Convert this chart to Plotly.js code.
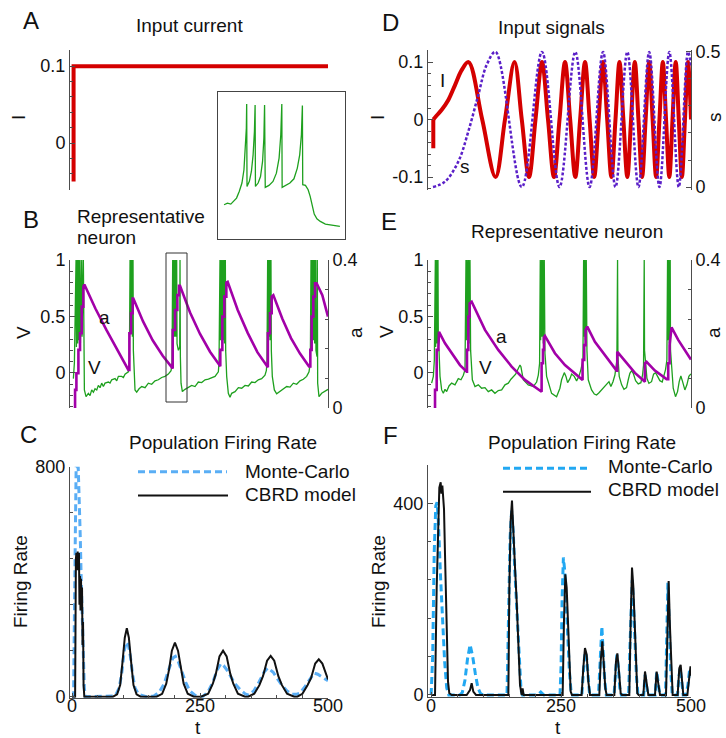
<!DOCTYPE html>
<html><head><meta charset="utf-8">
<script src="https://cdn.plot.ly/plotly-3.0.1.min.js"></script>
<style>html,body{margin:0;padding:0;background:#fff}#plot{width:726px;height:738px}</style>
</head><body><div id="plot"></div>
<script>
// ---------------- DATA ----------------
// Panel A: constant input current
const aCurrent = [[3,-0.05],[3,0.1],[500,0.1]];
// Inset: zoomed voltage trace (t, V)
const insetV = [[185.46,0.050],[186.55,0.065],[187.64,0.056],[188.74,0.086],[189.50,0.110],[190.37,0.170],[191.25,0.245],[191.90,0.364],[192.34,0.528],[192.67,0.737],[192.78,0.955],[192.89,0.215],[193.65,0.260],[194.31,0.349],[194.86,0.498],[195.29,0.707],[195.51,0.946],[195.62,0.215],[196.49,0.245],[197.26,0.304],[197.92,0.439],[198.35,0.648],[198.57,0.946],[198.79,0.206],[199.99,0.224],[201.30,0.260],[202.40,0.334],[203.27,0.469],[203.82,0.678],[204.15,0.955],[204.26,0.206],[205.46,0.224],[206.77,0.245],[208.08,0.283],[209.17,0.379],[209.94,0.498],[210.49,0.678],[210.81,0.940],[210.92,0.230],[211.80,0.224],[212.67,0.185],[213.33,0.125],[213.98,0.035],[214.64,-0.033],[215.51,-0.075],[216.61,-0.099],[218.25,-0.123],[219.89,-0.129],[221.53,-0.135],[222.95,-0.144]];
// Panel B: representative neuron, V and a
const bV = [[2.6,-0.05],[4.6,0.09],[7.8,1],[8.5,0.23],[10.4,1],[11.1,0.26],[13.0,1],[13.7,0.29],[15.6,1],[16.3,0.26],[18.9,1],[19.5,0.32],[22.1,1],[22.8,0.20],[24.1,-0.15],[27.3,-0.21],[31.9,-0.18],[35.2,-0.20],[38.4,-0.15],[41.7,-0.17],[44.9,-0.14],[48.2,-0.15],[51.4,-0.11],[54.7,-0.13],[57.9,-0.09],[61.2,-0.12],[64.4,-0.09],[71.0,-0.08],[74.2,-0.09],[77.5,-0.06],[84.0,-0.05],[87.3,-0.07],[90.5,-0.03],[97.0,-0.03],[100.3,-0.04],[103.5,-0.01],[110.0,0.01],
[112.0,0.09],[113.3,1],[113.9,0.35],[115.2,1],[115.9,0.35],[117.2,1],[117.8,0.32],[119.1,1],[119.8,0.20],[121.1,-0.03],[123.0,-0.15],[126.3,-0.17],[130.9,-0.14],[136.1,-0.12],[142.6,-0.13],[149.1,-0.09],[155.6,-0.10],[162.1,-0.07],[168.6,-0.06],[175.1,-0.04],[181.6,-0.03],[188.1,-0.01],[193.4,0.02],
[195.3,0.09],[196.6,1],[197.3,0.29],[199.2,1],[199.9,0.32],[201.8,1],[202.5,0.32],[204.4,1],[205.1,0.26],[207.7,0.20],[210.3,0.23],[210.9,1],[211.6,0.145],[212.9,-0.09],[215.5,-0.165],[220.7,-0.145],[227.2,-0.13],[233.7,-0.11],[240.2,-0.12],[246.7,-0.08],[253.2,-0.085],[259.8,-0.06],[266.3,-0.055],[272.8,-0.04],[279.3,-0.03],[285.8,0.01],
[287.1,0.09],[289.0,1],[289.7,0.29],[291.6,1],[292.3,0.32],[294.3,1],[294.9,0.29],[296.9,1],[297.5,0.26],[299.5,1],[300.1,0.20],[302.1,-0.03],[305.3,-0.18],[308.6,-0.215],[311.8,-0.18],[318.4,-0.165],[324.9,-0.13],[331.4,-0.135],[337.9,-0.11],[344.4,-0.115],[350.9,-0.08],[357.4,-0.085],[363.9,-0.06],[370.4,-0.05],[376.9,-0.02],[379.5,0.02],
[380.8,0.09],[382.1,1],[382.8,0.29],[384.1,1],[384.7,0.32],[386.0,1],[386.7,0.29],[388.6,1],[389.3,0.20],[391.2,-0.03],[395.2,-0.15],[399.7,-0.185],[406.3,-0.165],[412.8,-0.145],[419.3,-0.12],[425.8,-0.125],[432.3,-0.09],[438.8,-0.10],[445.3,-0.07],[451.8,-0.056],[458.3,-0.03],[462.9,0.01],
[465.5,0.09],[466.8,1],[467.4,0.29],[468.7,1],[469.4,0.29],[471.3,1],[472.0,0.29],[473.3,1],[473.9,0.26],[475.9,1],[476.5,0.20],[478.5,0.145],[479.1,1],[479.8,-0.09],[482.4,-0.21],[487.6,-0.18],[494.1,-0.165],[500,-0.145]];
const bA = [[5.9,0],[5.9,0.049],[8.5,0.049],[8.5,0.094],[12.4,0.094],[12.4,0.157],[15.6,0.157],[15.6,0.202],[18.9,0.202],[18.9,0.274],[22.1,0.274],[22.1,0.328],[24.1,0.334],[45.6,0.269],[67.1,0.211],[88.5,0.157],[110.0,0.103],
[112.0,0.103],[112.0,0.202],[115.2,0.202],[115.2,0.256],[118.5,0.256],[118.5,0.296],[119.8,0.296],[138.7,0.234],[157.5,0.183],[177.1,0.141],[196.0,0.107],
[196.6,0.107],[196.6,0.211],[201.2,0.211],[201.2,0.265],[205.7,0.265],[205.7,0.305],[209.0,0.305],[209.0,0.330],[210.9,0.330],[230.5,0.258],[250.0,0.200],[269.5,0.152],[289.0,0.113],
[289.6,0.113],[289.6,0.157],[293.6,0.157],[293.6,0.247],[297.5,0.247],[297.5,0.301],[301.4,0.301],[301.4,0.339],[304.0,0.341],[323.6,0.265],[343.1,0.203],[362.0,0.151],[381.5,0.110],
[382.5,0.110],[382.5,0.202],[386.7,0.202],[386.7,0.256],[390.0,0.256],[390.0,0.301],[393.2,0.305],[410.8,0.241],[427.7,0.189],[445.3,0.147],[462.9,0.112],
[465.5,0.112],[465.5,0.157],[468.1,0.157],[468.1,0.247],[471.3,0.247],[471.3,0.301],[474.6,0.301],[474.6,0.337],[477.8,0.337],[488.9,0.305],[500,0.247]];
// Panel C: population firing rate
const cMC = [[0,0],[3,0],[5,350],[7,750],[8,800],[12,800],[14,700],[16,560],[18,400],[20,250],[22,110],[24,30],[26,0],[60,0],[80,2],[85,5],[92,30],[97,80],[102,160],[106,190],[110,180],[114,140],[118,80],[123,30],[130,8],[145,0],[160,2],[170,15],[180,45],[190,100],[197,135],[202,140],[208,120],[215,85],[222,50],[230,20],[240,5],[250,0],[255,0],[265,15],[275,50],[284,95],[291,115],[296,108],[303,92],[310,70],[318,45],[328,25],[338,10],[345,5],[355,20],[365,50],[375,85],[382,100],[388,92],[393,85],[400,65],[410,40],[420,20],[430,8],[438,8],[445,12],[455,35],[465,62],[473,82],[480,78],[487,70],[494,62],[500,55]];
const cCBRD = [[0,0],[3,0],[6,0],[7.5,480],[8.5,500],[10,440],[11,505],[12.5,470],[13.5,500],[14.5,320],[15.5,420],[16.5,300],[17.5,410],[18.5,300],[19.5,380],[20.5,180],[21.5,260],[22.5,40],[24,0],[50,0],[80,0],[88,8],[94,40],[98.5,119],[103,205],[107,238],[111,205],[115.5,119],[120,40],[126,8],[134,0],[165,0],[176,10],[184,45],[189.5,94],[195,160],[201,188],[207,160],[212.5,94],[218,45],[226,10],[238,0],[252,0],[266,10],[275,45],[281,80],[288,140],[295,160],[302,140],[309,80],[315,45],[324,10],[338,0],[344,0],[356,10],[366,40],[373,71],[381,125],[388,142],[395,125],[403,71],[410,40],[420,10],[434,0],[440,0],[450,10],[460,40],[467,65],[475,115],[482,130],[489,115],[496,75],[500,60]];
// Panel D: input signals
const dIstep = [[4.2,-0.05],[4.2,0]];
const dI = [[4.2,0],[10.7,0.007],[20.4,0.017],[33.1,0.034],[46.0,0.060],[58.8,0.086],[71.9,0.1],[98.3,0],[123.9,-0.1],[142.1,0],[160.4,0.1],[174.4,0],[188.3,-0.1],[200.8,0],[213.3,0.1],[224.9,0],[236.4,-0.1],[247.0,0],[257.6,0.1],[267.5,0],[277.4,-0.1],[286.7,0],[296.1,0.1],[304.9,0],[313.8,-0.1],[322.2,0],[330.7,0.1],[338.8,0],[346.9,-0.1],[354.7,0],[362.4,0.1],[369.9,0],[377.5,-0.1],[384.7,0],[391.9,0.1],[398.9,0],[405.9,-0.1],[412.7,0],[419.6,0.1],[426.2,0],[432.9,-0.1],[439.3,0],[445.8,0.1],[452.0,0],[458.3,-0.1],[464.4,0],[470.6,0.1],[476.5,0],[482.5,-0.1],[488.4,0],[494.2,0.1],[500,0]];
const dS = [[3.6,0],[26.7,0.02],[52.3,0.094],[71.5,0.205],[90.8,0.341],[106.9,0.452],[123.9,0.5],[174.4,0],[213.3,0.5],[247.0,0],[277.4,0.5],[304.9,0],[330.7,0.5],[354.7,0],[377.5,0.5],[398.9,0],[419.6,0.5],[439.3,0],[458.3,0.5],[476.5,0],[494.2,0.5],[500,0.45]];
// Panel E: representative neuron, V and a
const eV = [[1.0,-0.09],[4.3,-0.03],[6.2,0.115],[8.1,1],[8.7,0.23],[10.7,1],[11.3,0.26],[13.2,1],[13.9,0.23],[15.2,0.20],[17.1,-0.03],[20.3,-0.15],[23.5,-0.18],[26.7,-0.145],[29.9,-0.165],[34.4,-0.115],[39.5,-0.09],[45.9,-0.105],[52.3,-0.05],[57.5,-0.06],[62.0,-0.02],[65.2,0.03],
[67.1,1],[67.7,0.29],[69.6,1],[70.3,0.32],[72.2,1],[72.8,0.26],[74.8,1],[76.0,0.20],[79.3,-0.06],[84.4,-0.12],[90.8,-0.105],[97.2,-0.135],[103.6,-0.13],[110.0,-0.165],[116.4,-0.15],[122.8,-0.18],[129.2,-0.155],[135.7,-0.15],[142.1,-0.105],[148.5,-0.09],[153.6,-0.055],[158.1,-0.03],[162.6,-0.01],[167.7,0.04],[170.9,0.07],[172.8,0.055],[175.4,-0.03],[177.3,-0.06],[186.9,-0.105],[196.6,-0.12],[203.0,-0.08],[206.2,-0.02],[208.7,0.085],
[210.0,1],[210.7,0.29],[212.6,1],[213.2,0.32],[215.1,1],[215.8,0.26],[217.7,1],[219.0,0.175],[222.2,-0.03],[231.8,-0.18],[241.4,-0.21],[247.8,-0.135],[251.0,-0.06],[256.2,0.003],[259.4,-0.03],[262.6,-0.085],[267.1,-0.05],[270.3,-0.01],[275.4,-0.03],[279.9,-0.07],[284.4,-0.03],[288.2,0.03],[292.1,0.115],
[293.4,1],[294.0,0.32],[295.9,1],[296.6,0.29],[298.5,1],[299.8,0.20],[302.3,-0.06],[308.7,-0.15],[314.0,-0.186],[318.3,-0.195],[323.0,-0.175],[328.0,-0.15],[333.2,-0.12],[337.6,-0.10],[342.2,-0.077],[345.9,-0.12],[349.9,-0.077],[353.6,-0.018],[357.4,0.115],
[358.7,1],[359.4,0.145],[361.9,-0.03],[366.6,-0.105],[371.0,-0.145],[376.0,-0.13],[379.3,-0.06],[382.4,-0.003],[385.7,0.02],[388.9,-0.003],[393.4,-0.068],[398.5,-0.097],[403.6,-0.086],[406.8,-0.018],[408.7,0.07],
[410.0,1],[410.6,0.20],[412.6,0.086],[415.2,-0.047],[419.0,-0.092],[424.1,-0.077],[428.0,-0.01],[431.8,0.003],[435.7,-0.03],[440.1,-0.068],[444.6,-0.08],[448.5,-0.018],[451.0,0.03],[453.6,0.115],
[454.9,1],[455.5,0.29],[457.4,1],[458.1,0.26],[460.0,1],[460.6,0.20],[462.6,0.056],[465.8,-0.135],[470.2,-0.21],[474.1,-0.165],[477.3,-0.077],[480.5,-0.027],[483.8,-0.077],[488.2,-0.15],[492.1,-0.105],[495.9,-0.03],[499.8,-0.008]];
const eA = [[7.5,0],[7.5,0.049],[10.7,0.049],[10.7,0.157],[13.9,0.157],[13.9,0.202],[15.2,0.206],[26.7,0.175],[42.7,0.143],[55.5,0.116],[68.4,0.098],
[69.0,0.098],[69.0,0.157],[71.6,0.157],[71.6,0.247],[74.1,0.247],[74.1,0.283],[78.0,0.287],[103.6,0.211],[129.2,0.157],[154.9,0.112],[180.5,0.076],[212.6,0.044],
[212.6,0.121],[215.2,0.121],[215.2,0.157],[217.1,0.157],[217.1,0.191],[219.0,0.195],[238.2,0.148],[257.5,0.116],[276.7,0.092],[289.5,0.076],
[291.4,0.076],[291.4,0.130],[294.6,0.130],[294.6,0.170],[297.2,0.170],[297.2,0.211],[300.4,0.220],[315.1,0.179],[331.2,0.148],[347.2,0.119],[356.8,0.101],
[358.1,0.101],[358.1,0.152],[360.0,0.149],[376.0,0.121],[392.1,0.095],[411.3,0.071],
[411.3,0.121],[414.5,0.125],[430.5,0.101],[453.0,0.078],
[456.2,0.078],[456.2,0.121],[458.8,0.121],[458.8,0.170],[462.6,0.218],[475.4,0.184],[488.2,0.157],[499.8,0.131]];
// Panel F: population firing rate
const fMC = [[0,0],[3,80],[6,300],[9,395],[11.5,402],[14,360],[18,250],[22,150],[26,70],[30,15],[34,0],[55,0],[60,5],[65,30],[70,75],[75,105],[80,80],[85,45],[90,15],[95,3],[100,0],[146,0],[149,150],[152,330],[155,385],[158,340],[161,260],[164,190],[167,120],[170,50],[173,10],[176,0],[205,0],[211,6],[217,0],[248,0],[250,60],[252,200],[254.5,287],[257,260],[260,200],[263,120],[266,50],[269,10],[272,0],[290,0],[293,50],[296,90],[299,80],[302,30],[305,0],[322,0],[324,50],[326.5,120],[328.5,143],[331,90],[334,30],[337,0],[352,0],[355,50],[357.5,84],[360,60],[363,15],[366,0],[380,0],[382.5,100],[385,200],[387,240],[389,200],[392,120],[395,40],[398,0],[409,0],[411.5,42],[414,20],[417,0],[431,0],[434,49],[437,25],[440,0],[451,0],[453,100],[455.5,234],[458,150],[461,50],[464,0],[474,0],[477,40],[479,56],[482,30],[485,0],[490,0],[494,20],[497,50],[500,45]];
const fCBRD = [[0,0],[7.5,0],[10.7,224],[13.2,364],[15.8,433],[18.4,444],[19.7,420],[21.6,437],[23.5,388],[24.8,388],[26.7,294],[28.6,189],[30.6,84],[32.5,28],[35,3.5],[39.5,0],[68.4,0],[74.8,10],[78,24.5],[81.2,7],[86.3,0],[148.6,0],[150.5,224],[153,364],[155.6,406],[157.5,350],[159.5,322],[161.4,266],[164.6,196],[167.8,112],[171,21],[174.2,0],[176,14],[178,0],[253.1,0],[255.6,154],[258.2,252],[260.8,224],[263.3,140],[265.9,56],[268.5,7],[271,0],[289.6,0],[292.8,56],[296,98],[299.3,84],[302.5,28],[305.7,0],[323.6,0],[326.2,70],[329.4,112],[331.9,70],[335.2,14],[337.7,0],[352.5,0],[355.7,70],[358.3,87],[361.5,49],[364.7,3.5],[367.2,0],[381.3,0],[383.9,154],[386.5,266],[389,227],[391.6,154],[394.2,56],[396.7,3.5],[399.3,0],[408.3,0],[411.5,49],[414.7,21],[417.9,0],[430.7,0],[433.9,49],[436.5,28],[440.4,0],[451.9,0],[454.5,154],[457,238],[459.6,140],[462.2,42],[464.7,0],[474.3,0],[477.5,56],[480.1,63],[482.7,21],[485.2,0],[493,0],[496,30],[499,60],[500,40]];
// Tick labels
const tTicks = [0,250,500], tTickText = ['0','250','500'];
const iTicksA = [[0,'0'],[0.1,'0.1']];
const vTicks = [[0,'0'],[0.5,'0.5'],[1,'1']];
const aTicks = [[0,'0'],[0.4,'0.4']];
const cTicks = [[0,'0'],[800,'800']];
const iTicksD = [[-0.1,'-0.1'],[0,'0'],[0.1,'0.1']];
const sTicks = [[0,'0'],[0.5,'0.5']];
const fTicks = [[0,'0'],[400,'400']];

// ---------------- STYLE / LAYOUT ----------------
const W=726,H=738;
const fx=p=>p/W, fy=p=>1-p/H;
const FONT='"Liberation Sans", Arial, Helvetica, sans-serif';
const AX='#4d4d4d';
const TF={family:FONT,size:18,color:'#111'};
const RED='#d40000', GREEN='#1ea01e', MAG='#a200a8', PURP='#5a1fc8', BLUEC='#5aaef5', BLUEF='#22a8f2';
const X=a=>a.map(p=>p[0]), Y=a=>a.map(p=>p[1]);

function yAx(top,bottom,range,major,minorD,anchor,extra){
  return Object.assign({domain:[fy(bottom),fy(top)],range:range,anchor:anchor,showline:true,linecolor:AX,linewidth:1,
    ticks:'inside',ticklen:5,tickwidth:1,tickcolor:AX,tickmode:'array',tickvals:X(major),ticktext:Y(major),
    minor:{tickmode:'linear',tick0:0,dtick:minorD,ticks:'inside',ticklen:3,tickwidth:1,tickcolor:AX,showgrid:false},
    showgrid:false,zeroline:false,tickfont:TF,fixedrange:true},extra||{});
}
function hidX(l,r,range,anchor){return {domain:[fx(l),fx(r)],range:range,anchor:anchor,visible:false,fixedrange:true};}
function tX(l,r,range,anchor){return {domain:[fx(l),fx(r)],range:range,anchor:anchor,showline:true,linecolor:AX,linewidth:1,
  ticks:'inside',ticklen:5,tickcolor:AX,tickmode:'array',tickvals:tTicks,ticktext:tTickText,
  minor:{tickmode:'linear',tick0:0,dtick:50,ticks:'inside',ticklen:3,tickcolor:AX,showgrid:false},
  showgrid:false,zeroline:false,tickfont:TF,fixedrange:true,ticklabelstandoff:-8};}
function ln(d,xa,ya,line,extra){return Object.assign({x:X(d),y:Y(d),xaxis:xa,yaxis:ya,mode:'lines',line:line,hoverinfo:'skip'},extra||{});}

const L = {
  width:W,height:H,margin:{l:0,r:0,t:0,b:0},paper_bgcolor:'#fff',plot_bgcolor:'rgba(0,0,0,0)',showlegend:false,
  font:{family:FONT,size:19,color:'#111'},
  xaxis: hidX(70,328,[-4,500],'y'),
  yaxis: yAx(50,190,[-0.061,0.121],iTicksA,0.02,'x'),
  xaxis2:{domain:[fx(218),fx(345)],range:[183.5,224.6],anchor:'y2',showline:true,mirror:true,linecolor:'#444',linewidth:1,ticks:'',showticklabels:false,showgrid:false,zeroline:false,fixedrange:true},
  yaxis2:{domain:[fy(239),fy(92)],range:[-0.257,1.062],anchor:'x2',showline:true,mirror:true,linecolor:'#444',linewidth:1,ticks:'',showticklabels:false,showgrid:false,zeroline:false,fixedrange:true},
  xaxis3: hidX(70,328,[-4,500],'y3'),
  yaxis3: yAx(260,408,[-0.31,1.0],vTicks,0.1,'x3'),
  yaxis4: yAx(260,408,[0,0.4],aTicks,0.08,'x3',{overlaying:'y3',side:'right'}),
  xaxis4: tX(70,328,[-4,500],'y5'),
  yaxis5: yAx(466.7,697.8,[-4,800],cTicks,160,'x4'),
  xaxis5: hidX(428,691,[-6,500],'y6'),
  yaxis6: yAx(50,190,[-0.1226,0.121],iTicksD,0.02,'x5'),
  yaxis7: yAx(50,190,[-0.011,0.507],sTicks,0.1,'x5',{overlaying:'y6',side:'right'}),
  xaxis6: hidX(428,691,[-6,500],'y8'),
  yaxis8: yAx(260,408,[-0.31,1.0],vTicks,0.1,'x6'),
  yaxis9: yAx(260,408,[0,0.4],aTicks,0.08,'x6',{overlaying:'y8',side:'right'}),
  xaxis7: tX(428,691,[-6,500],'y10'),
  yaxis10: yAx(465,696.9,[-4,480],fTicks,80,'x7'),
  shapes:[
    {type:'rect',xref:'paper',yref:'paper',x0:fx(166),x1:fx(187),y0:fy(402),y1:fy(253),line:{color:'#333',width:1}},
    {type:'line',xref:'paper',yref:'paper',x0:fx(138),x1:fx(227),y0:fy(471.7),y1:fy(471.7),line:{color:BLUEC,width:3,dash:'7px,4px'}},
    {type:'line',xref:'paper',yref:'paper',x0:fx(138),x1:fx(228),y0:fy(495.5),y1:fy(495.5),line:{color:'#111',width:2}},
    {type:'line',xref:'paper',yref:'paper',x0:fx(503),x1:fx(591),y0:fy(468.3),y1:fy(468.3),line:{color:BLUEF,width:3,dash:'7px,4px'}},
    {type:'line',xref:'paper',yref:'paper',x0:fx(503),x1:fx(591),y0:fy(491.7),y1:fy(491.7),line:{color:'#111',width:2}}
  ],
  annotations:[]
};
function ann(text,x,y,size,extra){L.annotations.push(Object.assign({text:text,xref:'paper',yref:'paper',x:fx(x),y:fy(y),xanchor:'center',yanchor:'middle',showarrow:false,font:{family:FONT,size:size,color:'#111'}},extra||{}));}
// panel letters and titles
ann('A',31,21,24); ann('Input current',190,26,19);
ann('D',390,22,24); ann('Input signals',551,27,19);
ann('B',31,219,24); ann('Representative',75,216,19,{xanchor:'left'}); ann('neuron',75,237,19,{xanchor:'left'});
ann('E',389,222,24); ann('Representative neuron',567,232,19);
ann('C',28,434,24); ann('Population Firing Rate',223,442,19);
ann('F',390,435,24); ann('Population Firing Rate',582,442,19);
// legends
ann('Monte-Carlo',243,471,19,{xanchor:'left'}); ann('CBRD model',243,494,19,{xanchor:'left'});
ann('Monte-Carlo',606,467,19,{xanchor:'left'}); ann('CBRD model',606,490,19,{xanchor:'left'});
// axis titles
ann('I',19,118,19,{textangle:-90}); ann('V',24,333,19,{textangle:-90}); ann('a',356,333,19,{textangle:-90});
ann('Firing Rate',20,582,19,{textangle:-90}); ann('t',198,727,19);
ann('I',378,118,19,{textangle:-90}); ann('s',714,117,19,{textangle:-90});
ann('V',386,332,19,{textangle:-90}); ann('a',714,333,19,{textangle:-90});
ann('Firing Rate',378,582,19,{textangle:-90}); ann('t',558,727,19);
// in-plot labels
ann('a',105,317,19); ann('V',95,367,19);
ann('a',501,336,19); ann('V',485,367,19);
ann('I',442,81,19); ann('s',465,166,19);

const data = [
  ln(aCurrent,'x','y',{color:RED,width:4}),
  ln(insetV,'x2','y2',{color:GREEN,width:1.3}),
  ln(bV,'x3','y3',{color:GREEN,width:1.3}),
  ln(bA,'x3','y4',{color:MAG,width:2.6}),
  ln(cMC,'x4','y5',{color:BLUEC,width:3,dash:'7px,4px'}),
  ln(cCBRD,'x4','y5',{color:'#111',width:2}),
  ln(dIstep,'x5','y6',{color:RED,width:4}),
  ln(dI,'x5','y6',{color:RED,width:4,shape:'spline',smoothing:1}),
  ln(dS,'x5','y7',{color:PURP,width:2.5,dash:'3px,2px',shape:'spline',smoothing:1}),
  ln(eV,'x6','y8',{color:GREEN,width:1.3}),
  ln(eA,'x6','y9',{color:MAG,width:2.6}),
  ln(fMC,'x7','y10',{color:BLUEF,width:3,dash:'7px,4px'}),
  ln(fCBRD,'x7','y10',{color:'#111',width:2})
];
Plotly.newPlot('plot',data,L,{staticPlot:true,displayModeBar:false});
</script></body></html>
